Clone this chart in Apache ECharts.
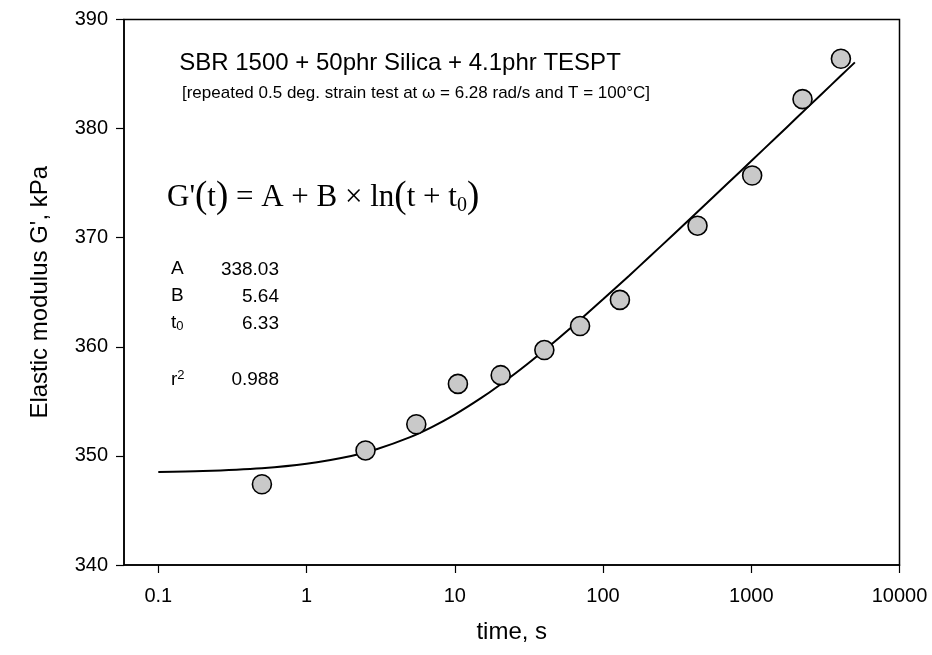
<!DOCTYPE html>
<html>
<head>
<meta charset="utf-8">
<script src="https://cdn.jsdelivr.net/npm/echarts@6/dist/echarts.min.js"></script>
<style>
  html, body { margin: 0; padding: 0; background: #fff; }
  #chart { width: 932px; height: 655px; }
</style>
</head>
<body>
<div id="chart"></div>
<script>
// Measured storage modulus of the compound over repeated strain tests
const timeS = [0.5, 2.5, 5.5, 10.5, 20.4, 40.2, 70, 130, 434, 1014, 2217, 4025];
const modulusKPa = [347.4, 350.5, 352.9, 356.6, 357.4, 359.7, 361.9, 364.3, 371.1, 375.7, 382.7, 386.4];

// Fitted curve G'(t) = A + B ln(t + t0)
const fitTime = [0.1, 0.2, 0.5, 1, 2, 3, 5, 7, 10, 15, 20, 30, 50, 70, 100, 150, 200, 300, 500, 700, 1000, 1500, 2000, 3000, 4000, 5000];
const fitModulus = [348.53, 348.61, 348.87, 349.27, 349.99, 350.63, 351.72, 352.64, 353.78, 355.29, 356.48, 358.29, 360.77, 362.48, 364.35, 366.52, 368.09, 370.32, 373.15, 375.03, 377.03, 379.30, 380.92, 383.20, 384.82, 386.07];

// Fit parameters shown in the panel
const paramNames = ['A', 'B', 't0', 'r2'];
const paramValues = ['338.03', '5.64', '6.33', '0.988'];

// Axis settings
const timeTicks = [0.1, 1, 10, 100, 1000, 10000];
const timeRange = [0.0587, 10000];
const modulusRange = [340, 390];
const modulusStep = 10;

const lg = v => Math.log10(v);
const labelFont = 'Liberation Sans, Arial, sans-serif';

const chart = echarts.init(document.getElementById('chart'));

const paramRows = [];
const rowY = [270, 297, 324, 380];
paramNames.forEach((name, i) => {
  let text = name;
  if (name === 't0') { text = '{m|t}{s|0}'; }
  if (name === 'r2') { text = '{m|r}{p|2}'; }
  paramRows.push({
    type: 'text', left: 171, top: rowY[i] - 11,
    style: {
      text: text, fill: '#000', font: '19px ' + labelFont,
      rich: {
        m: { fontSize: 19, fontFamily: labelFont },
        s: { fontSize: 13, fontFamily: labelFont, verticalAlign: 'bottom', padding: [8, 0, 0, 0] },
        p: { fontSize: 13, fontFamily: labelFont, verticalAlign: 'top', padding: [0, 0, 8, 0] }
      }
    }
  });
  paramRows.push({
    type: 'text', x: 279, y: rowY[i],
    style: { text: paramValues[i], fill: '#000', font: '19px ' + labelFont, align: 'right', verticalAlign: 'middle' }
  });
});

chart.setOption({
  backgroundColor: '#fff',
  animation: false,
  grid: {
    left: 124, right: 32.5, top: 19.5, bottom: 90,
    show: true, borderColor: '#000', borderWidth: 1.5
  },
  xAxis: {
    type: 'value',
    min: lg(timeRange[0]), max: lg(timeRange[1]),
    name: 'time, s',
    nameLocation: 'middle',
    nameGap: 55,
    nameTextStyle: { fontSize: 24, fontFamily: labelFont, color: '#000' },
    axisLine: { onZero: false, lineStyle: { color: '#000', width: 1.5 } },
    axisTick: { inside: false, length: 8, lineStyle: { color: '#000', width: 1.2 }, customValues: timeTicks.map(lg) },
    axisLabel: {
      customValues: timeTicks.map(lg),
      margin: 21, fontSize: 20, fontFamily: labelFont, color: '#000',
      formatter: v => String(Math.round(Math.pow(10, v) * 1000) / 1000)
    },
    splitLine: { show: false }
  },
  yAxis: {
    type: 'value',
    min: modulusRange[0], max: modulusRange[1], interval: modulusStep,
    name: "Elastic modulus G', kPa",
    nameLocation: 'middle',
    nameGap: 72,
    nameTextStyle: { fontSize: 24, fontFamily: labelFont, color: '#000' },
    axisLine: { onZero: false, lineStyle: { color: '#000', width: 1.5 } },
    axisTick: { inside: false, length: 8, lineStyle: { color: '#000', width: 1.2 } },
    axisLabel: { margin: 16, fontSize: 20, fontFamily: labelFont, color: '#000' },
    splitLine: { show: false }
  },
  graphic: [
    {
      type: 'text', x: 400, y: 63,
      style: { text: 'SBR 1500 + 50phr Silica + 4.1phr TESPT', fill: '#000', font: '24px ' + labelFont, align: 'center', verticalAlign: 'middle' }
    },
    {
      type: 'text', x: 416, y: 93,
      style: { text: '[repeated 0.5 deg. strain test at \u03c9 = 6.28 rad/s and T = 100\u00b0C]', fill: '#000', font: '17px ' + labelFont, align: 'center', verticalAlign: 'middle' }
    },
    {
      type: 'text', left: 167, top: 179,
      style: {
        text: "{e|G'}{b|(}{e|t}{b|)}{e| = A + B \u00d7 ln}{b|(}{e|t + t}{s|0}{b|)}",
        fill: '#000',
        rich: {
          e: { fontSize: 31, fontFamily: 'Liberation Serif, Times New Roman, serif' },
          b: { fontSize: 37, fontFamily: 'Liberation Serif, Times New Roman, serif' },
          s: { fontSize: 20, fontFamily: 'Liberation Serif, Times New Roman, serif', verticalAlign: 'bottom', padding: [12, 0, 0, 0] }
        }
      }
    }
  ].concat(paramRows),
  series: [
    {
      name: 'fit',
      type: 'line',
      data: fitTime.map((t, i) => [lg(t), fitModulus[i]]),
      smooth: 0.3,
      showSymbol: false,
      lineStyle: { color: '#000', width: 2 },
      z: 2
    },
    {
      name: 'measured',
      type: 'scatter',
      data: timeS.map((t, i) => [lg(t), modulusKPa[i]]),
      symbol: 'circle',
      symbolSize: 19,
      itemStyle: { color: '#c9c9c9', borderColor: '#000', borderWidth: 1.6, opacity: 1 },
      z: 3
    }
  ]
});
</script>
</body>
</html>
